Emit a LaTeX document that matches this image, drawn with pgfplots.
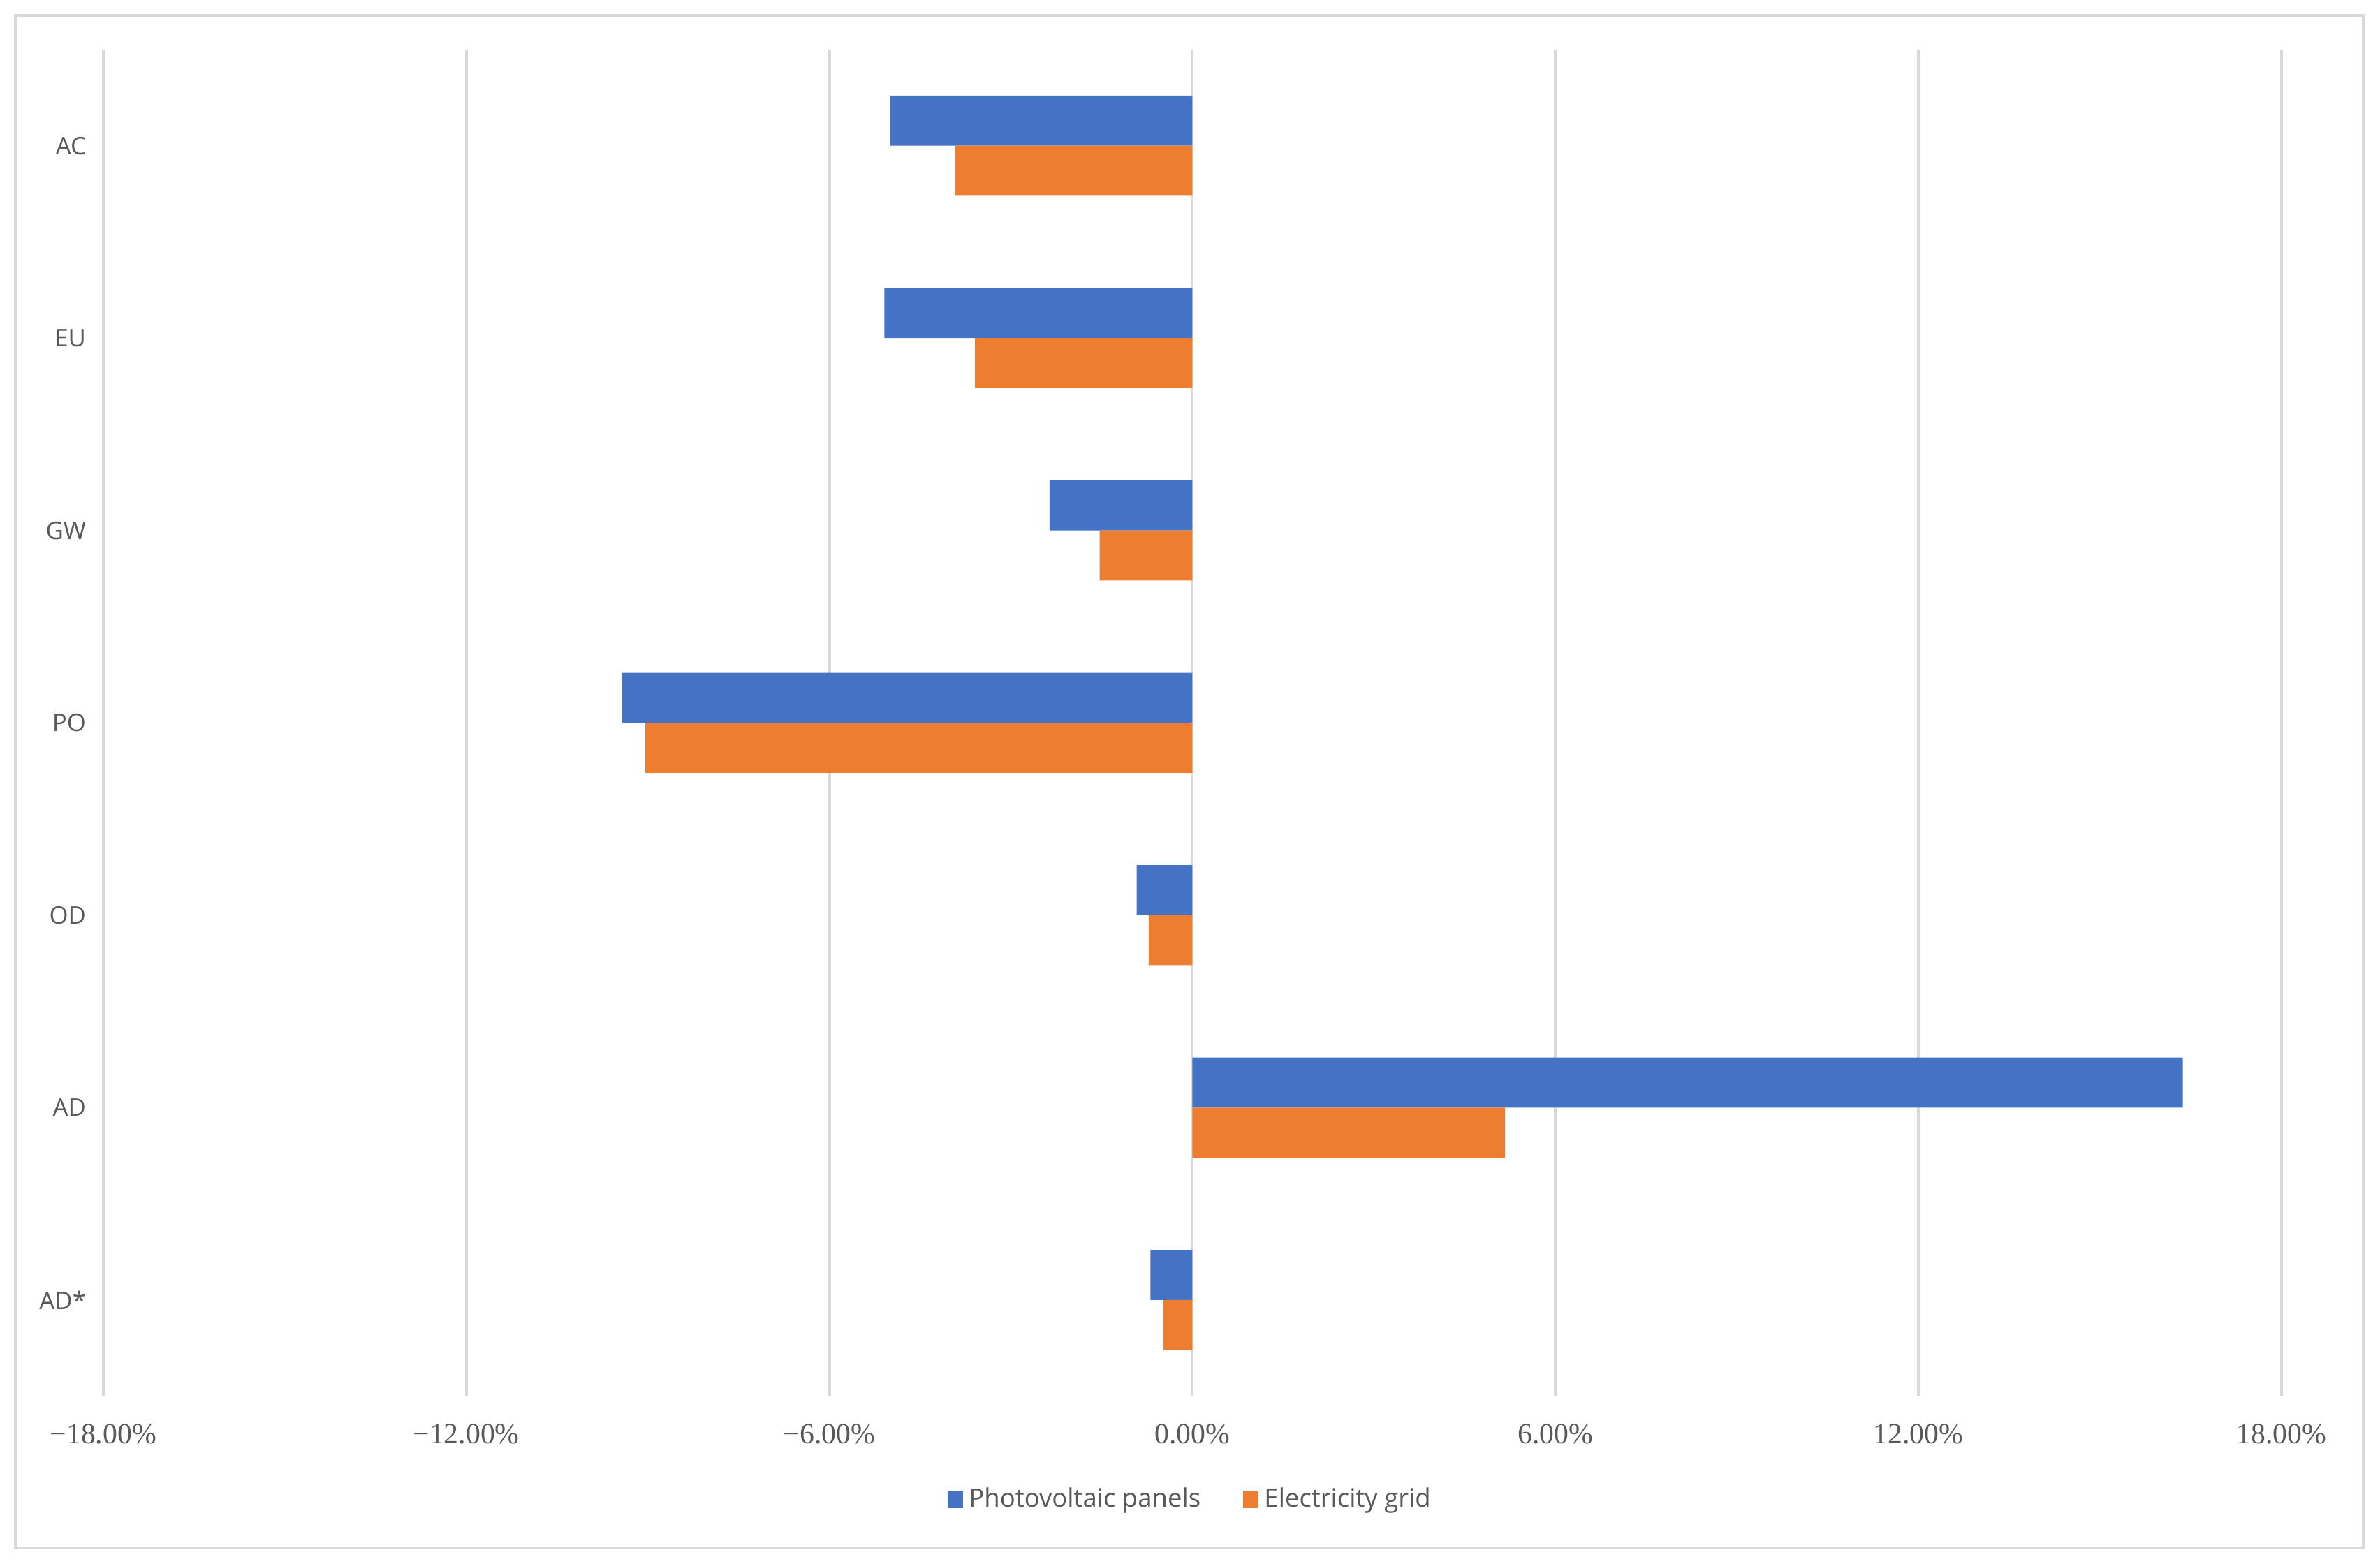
\documentclass[border=0pt]{standalone}
\usepackage{fontspec}
\setmainfont{Liberation Serif}
\newfontfamily\labelfont{Open Sans}
\usepackage{pgfplots}
\pgfplotsset{compat=1.18}
\definecolor{pvblue}{HTML}{4472C4}
\definecolor{gridorange}{HTML}{ED7D31}
\definecolor{gridgray}{HTML}{D9D9D9}
\definecolor{txtgray}{HTML}{595959}
\begin{document}
\begin{tikzpicture}
\useasboundingbox (-34pt,-55.3pt) rectangle (750pt,460pt);
\draw[color=gridgray, line width=1pt] (-29pt,-50pt) rectangle (744.5pt,455pt);
\begin{axis}[
  at={(0,0)}, anchor=south west,
  scale only axis,
  width=717.5pt, height=443.7pt,
  xbar,
  bar width=16.5pt,
  xmin=-18, xmax=18,
  ymin=-0.5, ymax=6.5,
  y dir=reverse,
  axis line style={draw=none},
  major tick length=0pt,
  xtick={-18,-12,-6,0,6,12,18},
  xticklabels={−18.00\%,−12.00\%,−6.00\%,0.00\%,6.00\%,12.00\%,18.00\%},
  xticklabel style={anchor=center, yshift=-12.5pt, font=\fontsize{9.6}{11}\selectfont, text=txtgray},
  ytick={0,1,2,3,4,5,6},
  yticklabels={AC,EU,GW,PO,OD,AD,AD*},
  yticklabel style={anchor=east, inner sep=0pt, xshift=-5.5pt, font=\labelfont\fontsize{8}{9.5}\selectfont, text=txtgray},
  xmajorgrids,
  ymajorgrids=false,
  grid style={color=gridgray, line width=0.95pt},
  legend style={at={(0.5,0)}, anchor=center, yshift=-34pt, draw=none, fill=none,
    font=\labelfont\fontsize{8.4}{10}\selectfont, text=txtgray,
    legend columns=2, inner sep=0pt,
    /tikz/every even column/.append style={column sep=12pt}},
  legend image code/.code={\fill[#1] (0pt,-2.8pt) rectangle (5pt,2.8pt);},
  legend cell align=left,
]
\addplot[fill=pvblue, draw=none, bar shift=8.25pt] coordinates {
  (-4.99,0) (-5.09,1) (-2.36,2) (-9.42,3) (-0.92,4) (16.37,5) (-0.69,6)};
\addlegendentry{Photovoltaic panels}
\addplot[fill=gridorange, draw=none, bar shift=-8.25pt] coordinates {
  (-3.92,0) (-3.59,1) (-1.53,2) (-9.04,3) (-0.72,4) (5.17,5) (-0.48,6)};
\addlegendentry{Electricity grid}
\end{axis}
\end{tikzpicture}
\end{document}
